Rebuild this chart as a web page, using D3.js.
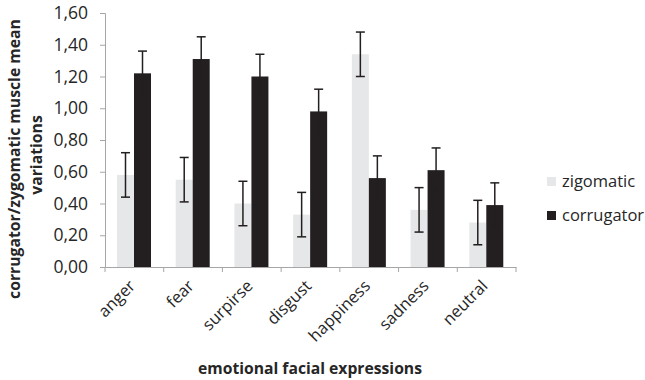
<!DOCTYPE html>
<html><head><meta charset="utf-8">
<script src="https://cdn.jsdelivr.net/npm/d3@7"></script>
<style>body{margin:0;background:#fff}svg{display:block}text{font-family:"Open Sans",sans-serif;fill:#262626}</style>
</head><body><svg id="c" width="645" height="380"></svg>
<script>
const categories = ["anger","fear","surpirse","disgust","happiness","sadness","neutral"];
const seriesNames = ["zigomatic","corrugator"];
const zigomatic = [0.58,0.55,0.40,0.33,1.34,0.36,0.28];
const corrugator = [1.22,1.31,1.20,0.98,0.56,0.61,0.39];
const zigErr = [0.14,0.14,0.14,0.14,0.14,0.14,0.14];
const corErr = [0.14,0.14,0.14,0.14,0.14,0.14,0.14];
const yTicks = [0,0.2,0.4,0.6,0.8,1.0,1.2,1.4,1.6];
const colors = ["#e6e7e8","#231f20"];

const svg = d3.select("#c");
const pLeft=105, pRight=516, pTop=13, pBottom=267;
const x = d3.scaleBand().domain(categories).range([pLeft,pRight]).padding(0);
const xs = d3.scaleBand().domain(seriesNames).range([12, 46]).padding(0);
const y = d3.scaleLinear().domain([0,1.6]).range([pBottom,pTop]);
const fmt = d3.formatLocale({decimal:",",thousands:".",grouping:[3],currency:["",""]}).format(".2f");

// y axis
const ya = svg.append("g").attr("transform",`translate(${pLeft},0)`)
  .call(d3.axisLeft(y).tickValues(yTicks).tickFormat(fmt).tickSize(5).tickPadding(12));
ya.select(".domain").attr("stroke","#a6a6a6");
ya.selectAll(".tick line").attr("stroke","#a6a6a6");
ya.selectAll(".tick text").attr("font-size",17.5).attr("font-family","Open Sans").attr("fill","#262626");

// bars
const data = categories.map((c,i)=>({c, vals:[zigomatic[i],corrugator[i]], errs:[zigErr[i],corErr[i]]}));
const g = svg.append("g");
data.forEach(d=>{
  seriesNames.forEach((s,j)=>{
    const x0 = x(d.c)+xs(s);
    g.append("rect").attr("x",x0).attr("y",y(d.vals[j]))
      .attr("width",xs.bandwidth()).attr("height",pBottom-y(d.vals[j]))
      .attr("fill",colors[j]);
  });
});
// error bars
data.forEach(d=>{
  seriesNames.forEach((s,j)=>{
    const cx = x(d.c)+xs(s)+xs.bandwidth()/2;
    const hi = y(d.vals[j]+d.errs[j]), lo = y(d.vals[j]-d.errs[j]);
    const eg = g.append("g").attr("stroke","#231f20").attr("stroke-width",1.5);
    eg.append("line").attr("x1",cx).attr("x2",cx).attr("y1",hi).attr("y2",lo);
    eg.append("line").attr("x1",cx-4.5).attr("x2",cx+4.5).attr("y1",hi).attr("y2",hi);
    eg.append("line").attr("x1",cx-4.5).attr("x2",cx+4.5).attr("y1",lo).attr("y2",lo);
  });
});

// x axis
const xa = svg.append("g").attr("transform",`translate(0,${pBottom})`)
  .call(d3.axisBottom(x).tickSize(0).tickFormat(""));
xa.select(".domain").attr("stroke","#a6a6a6");
xa.selectAll(".tick").remove();
const bounds = categories.map(c=>x(c)).concat([pRight]);
xa.selectAll("line.b").data(bounds).enter().append("line")
  .attr("x1",d=>d).attr("x2",d=>d).attr("y1",0).attr("y2",5).attr("stroke","#a6a6a6");
svg.append("g").selectAll("text").data(categories).enter().append("text")
  .attr("transform",d=>`translate(${x(d)+x.bandwidth()/2+2},${pBottom+20}) rotate(-45)`)
  .attr("text-anchor","end").attr("font-size",16.5).text(d=>d);

// axis titles, sized to match the reference's text widths
function fitText(sel, target){
  const w = sel.node().getComputedTextLength();
  const fs = +sel.attr("font-size");
  sel.attr("font-size", fs*target/w);
}
const t1 = svg.append("text").attr("transform","translate(20,159) rotate(-90)")
  .attr("text-anchor","middle").attr("font-size",14).attr("font-weight","bold")
  .text("corrugator/zygomatic muscle mean");
fitText(t1, 280);
const t2 = svg.append("text").attr("transform","translate(42,155) rotate(-90)")
  .attr("text-anchor","middle").attr("font-size",t1.attr("font-size")).attr("font-weight","bold")
  .text("variations");
const t3 = svg.append("text").attr("x",310).attr("y",374)
  .attr("text-anchor","middle").attr("font-size",14).attr("font-weight","bold")
  .text("emotional facial expressions");
fitText(t3, 224);

// legend
const lg = svg.append("g");
seriesNames.forEach((s,j)=>{
  const yy = 177 + j*34;
  lg.append("rect").attr("x",547).attr("y",yy).attr("width",9).attr("height",9).attr("fill",colors[j]);
  lg.append("text").attr("x",562).attr("y",yy+10).attr("font-size",16.5).text(s);
});
</script></body></html>
